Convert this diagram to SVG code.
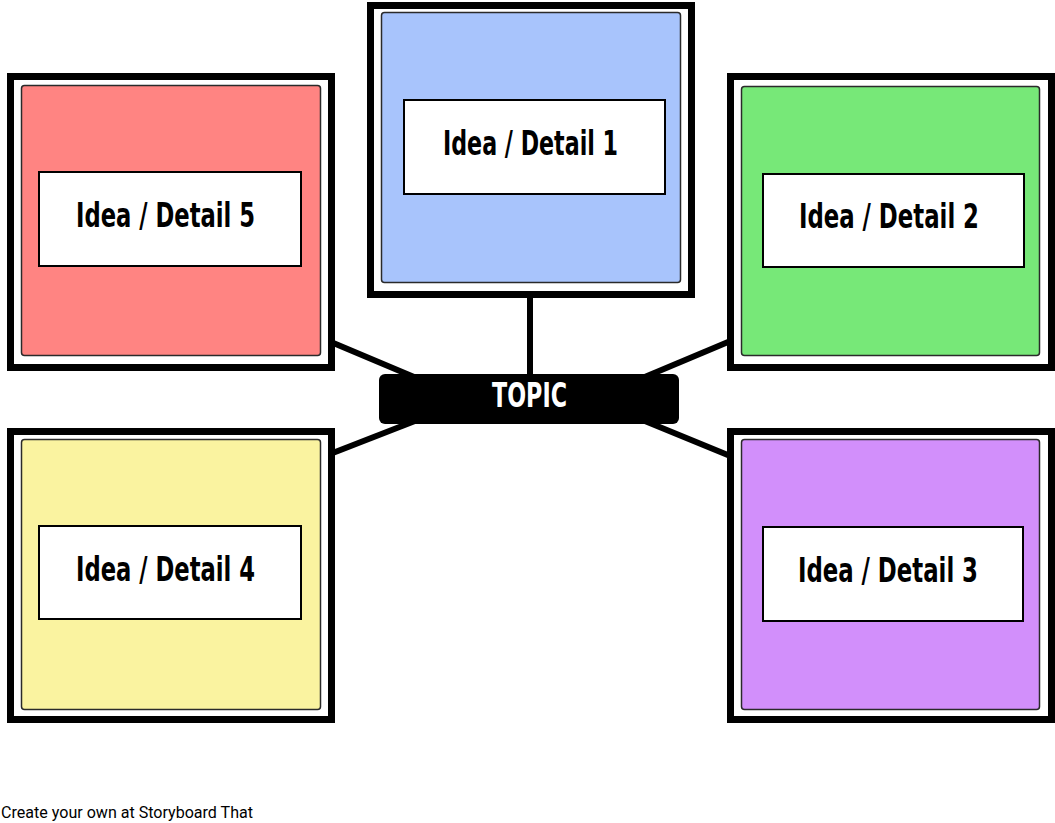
<svg xmlns="http://www.w3.org/2000/svg" width="1055" height="823" viewBox="0 0 1055 823">
<style>
.frame{fill:#fff;stroke:#000;stroke-width:7}
.inner{stroke:#2a2a2a;stroke-width:1.5}
.label{fill:#fff;stroke:#000;stroke-width:2}
.lt{font-family:"Liberation Sans Narrow","DejaVu Sans Condensed","DejaVu Sans",sans-serif;font-weight:bold;font-size:33px;fill:#000}
.conn line{stroke:#000;stroke-width:6}
</style>
<rect width="1055" height="823" fill="#fff"/>
<g id="connectors" class="conn">
<line x1="530" y1="294" x2="530" y2="380"/>
<line x1="325" y1="339.6" x2="420" y2="379.4"/>
<line x1="325" y1="456" x2="420" y2="419"/>
<line x1="740" y1="337" x2="640" y2="379"/>
<line x1="640" y1="419" x2="740" y2="460"/>
</g>
<g id="node1">
<rect class="frame" x="370.5" y="5.5" width="321" height="289"/>
<rect class="inner" x="381.5" y="12.5" width="299" height="270" rx="3" fill="#A8C4FC"/>
<rect class="label" x="404" y="100" width="261" height="94"/>
<text class="lt" x="443" y="155" textLength="175" lengthAdjust="spacingAndGlyphs">Idea / Detail 1</text>
</g>
<g id="node2">
<rect class="frame" x="730.5" y="76.5" width="321" height="291"/>
<rect class="inner" x="741.5" y="86.5" width="298" height="269" rx="3" fill="#77E878"/>
<rect class="label" x="763" y="174" width="261" height="93"/>
<text class="lt" x="799" y="228" textLength="180" lengthAdjust="spacingAndGlyphs">Idea / Detail 2</text>
</g>
<g id="node3">
<rect class="frame" x="730.5" y="431.5" width="321" height="288"/>
<rect class="inner" x="741.5" y="439.5" width="298" height="270" rx="3" fill="#D28FFB"/>
<rect class="label" x="763" y="527" width="260" height="94"/>
<text class="lt" x="798" y="582" textLength="180" lengthAdjust="spacingAndGlyphs">Idea / Detail 3</text>
</g>
<g id="node4">
<rect class="frame" x="10.5" y="431.5" width="321" height="288"/>
<rect class="inner" x="21.5" y="439.5" width="299" height="270" rx="3" fill="#FAF3A0"/>
<rect class="label" x="39" y="526" width="262" height="93"/>
<text class="lt" x="76" y="581" textLength="179" lengthAdjust="spacingAndGlyphs">Idea / Detail 4</text>
</g>
<g id="node5">
<rect class="frame" x="10.5" y="76.5" width="321" height="291"/>
<rect class="inner" x="21.5" y="85.5" width="299" height="270" rx="3" fill="#FF8482"/>
<rect class="label" x="39" y="172" width="262" height="94"/>
<text class="lt" x="76" y="227" textLength="179" lengthAdjust="spacingAndGlyphs">Idea / Detail 5</text>
</g>
<g id="topic">
<rect x="379" y="374" width="300" height="50" rx="6" fill="#000"/>
<text class="lt" x="492" y="407" textLength="75" lengthAdjust="spacingAndGlyphs" style="fill:#fff">TOPIC</text>
</g>
<text x="1" y="818" font-family="Roboto, 'Liberation Sans', sans-serif" font-size="16" textLength="252" lengthAdjust="spacingAndGlyphs" fill="#000">Create your own at Storyboard That</text>
</svg>
